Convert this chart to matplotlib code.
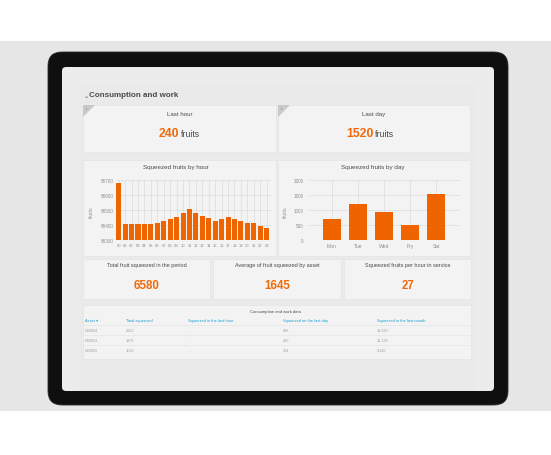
import matplotlib
matplotlib.use("Agg")
import matplotlib.pyplot as plt
from matplotlib.patches import FancyBboxPatch, Rectangle, Polygon

plt.rcParams['font.family'] = ['Liberation Sans', 'DejaVu Sans']

# ---------------- data ----------------
hours = ["00", "01", "02", "03", "04", "05", "06", "07", "08", "09", "10", "11",
         "12", "13", "14", "15", "16", "17", "18", "19", "20", "21", "22", "23"]
hour_values = [86677, 86410, 86410, 86410, 86410, 86410, 86414, 86428, 86437, 86455,
               86478, 86510, 86478, 86459, 86448, 86428, 86442, 86455, 86442, 86430,
               86414, 86414, 86396, 86378]
hour_ticks = [86300, 86400, 86500, 86600, 86700]

days = ["Mon", "Tue", "Wed", "Fry", "Sat"]
day_values = [700, 1200, 920, 500, 1520]
day_ticks = [0, 500, 1000, 1500, 2000]

last_hour = 240
last_day = 1520
kpi_titles = ["Total fruit squeezed in the period",
              "Average of fruit squeezed by asset",
              "Squeezed fruits per hour in service"]
kpi_values = [6580, 1645, 27]

table_headers = ["Asset \u25be", "Total squeezed", "Squeezed in the last hour",
                 "Squeezed on the last day", "Squeezed in the last month"]
table_assets = ["D00004", "D00003", "D00002"]
table_total = ["2652", "1976", "1516"]
table_hour = ["-", "-", "-"]
table_day = ["636", "450", "354"]
table_month = ["16.320", "12.136", "9.130"]

# ---------------- styling ----------------
W, H = 551, 456
ORANGE = "#f06a0a"
BAR = "#f06400"
DARK = "#4a4a4a"
GREY = "#8f8f8f"
BLUE = "#1ea0d6"
PANEL = "#f3f3f3"

fig = plt.figure(figsize=(W / 100, H / 100), dpi=100, facecolor="white")
bg = fig.add_axes([0, 0, 1, 1])
bg.set_xlim(0, W)
bg.set_ylim(H, 0)
bg.axis("off")

# grey band
bg.add_patch(Rectangle((0, 42), W, 370, facecolor="#e6e6e6", edgecolor="none"))
# tablet body
bg.add_patch(FancyBboxPatch((48 + 14, 53 + 14), 460 - 28, 353 - 28,
                            boxstyle="round,pad=14", facecolor="#0f0f0f",
                            edgecolor="#2a2a2a", linewidth=0.6))
# screen
bg.add_patch(FancyBboxPatch((62 + 4, 68 + 4), 432 - 8, 324 - 8,
                            boxstyle="round,pad=4", facecolor="#ececec",
                            edgecolor="none"))
# dashboard area
bg.add_patch(Rectangle((79, 86), 396, 306, facecolor="#eaeaea", edgecolor="none"))


def panel(x0, y0, x1, y1):
    bg.add_patch(Rectangle((x0, y0), x1 - x0, y1 - y0, facecolor=PANEL,
                           edgecolor="#e4e4e4", linewidth=0.5))


# heading
bg.text(84, 96.5, "\u2304", ha="left", va="center", fontsize=4.5, color=DARK,
        family=["DejaVu Sans"])
bg.text(89, 96, "Consumption and work", ha="left", va="center", fontsize=5.8,
        color=DARK, fontweight="bold")

# stat panels row 1
for (x0, x1, title, val) in [(83, 276, "Last hour", last_hour),
                             (278, 470, "Last day", last_day)]:
    panel(x0, 106, x1, 153)
    bg.add_patch(Polygon([[x0, 106], [x0 + 12, 106], [x0, 118]], closed=True,
                         facecolor="#c9c9c9", edgecolor="none"))
    bg.text(x0 + 3, 109.5, "i", fontsize=3, color="#666", ha="center", va="center")
    cx = (x0 + x1) / 2
    bg.text(cx, 114.5, title, ha="center", va="center", fontsize=4.4, color=DARK)
    bg.text(cx - 0.5, 137, str(val), ha="right", va="baseline", fontsize=8.8,
            color=ORANGE, fontweight="bold")
    bg.text(cx + 1, 137, "fruits", ha="left", va="baseline", fontsize=6.3, color=DARK)

# chart panels
panel(83, 161, 276, 257)
panel(278, 161, 470, 257)
bg.text(176, 168, "Squeezed fruits by hour", ha="center", va="center", fontsize=4.5,
        color=DARK)
bg.text(373, 168, "Squeezed fruits by day", ha="center", va="center", fontsize=4.5,
        color=DARK)
bg.text(91, 212, "fruits", ha="center", va="center", rotation=90, fontsize=3.8,
        color=GREY)
bg.text(285, 212, "fruits", ha="center", va="center", rotation=90, fontsize=3.8,
        color=GREY)


def fig_rect(x0, y0, x1, y1):
    return [x0 / W, 1 - y1 / H, (x1 - x0) / W, (y1 - y0) / H]


def style_axes(ax):
    ax.set_facecolor(PANEL)
    for s in ax.spines.values():
        s.set_visible(False)
    ax.grid(True, color="#d8d8d8", linewidth=0.45)
    ax.set_axisbelow(True)
    ax.tick_params(length=0, labelsize=3.3, labelcolor=GREY, pad=2)


# hourly chart
ax1 = fig.add_axes(fig_rect(116, 181, 270.5, 241))
style_axes(ax1)
ax1.bar(range(len(hours)), hour_values, width=0.78, color=BAR, bottom=0, zorder=3)
ax1.set_ylim(hour_ticks[0], hour_ticks[-1])
ax1.set_yticks(hour_ticks)
ax1.set_xticks(range(len(hours)))
ax1.set_xticklabels(hours)
ax1.set_xlim(-0.42, len(hours) - 1 + 0.6)
ax1.tick_params(axis="x", labelsize=3.0, pad=2.5)

# daily chart
ax2 = fig.add_axes(fig_rect(309, 181, 460, 241))
style_axes(ax2)
ax2.bar(range(len(days)), day_values, width=0.7, color=BAR, zorder=3)
ax2.set_ylim(day_ticks[0], day_ticks[-1])
ax2.set_yticks(day_ticks)
ax2.set_xticks(range(len(days)))
ax2.set_xticklabels(days)
ax2.set_xlim(-0.88, len(days) - 1 + 0.92)
ax2.tick_params(axis="y", pad=4)
ax2.tick_params(axis="x", labelsize=3.6, pad=2.5)

# KPI row
for (x0, x1), title, val in zip([(83, 210), (213, 341), (344, 471)], kpi_titles, kpi_values):
    panel(x0, 260, x1, 300)
    cx = (x0 + x1) / 2
    bg.text(cx, 265.5, title, ha="center", va="center", fontsize=4.0, color=DARK)
    bg.text(cx, 286, str(val), ha="center", va="center", fontsize=8.3, color=ORANGE,
            fontweight="bold")

# table
panel(83, 306, 471, 360)
bg.text(275, 312, "Consumption and work data", ha="center", va="center", fontsize=3.0,
        color=DARK)
col_x = [85, 125.5, 188, 283, 377]
for x, h in zip(col_x, table_headers):
    bg.text(x, 321, h, ha="left", va="center", fontsize=2.9, color=BLUE,
            family=["Liberation Sans", "DejaVu Sans"])
rows = list(zip(table_assets, table_total, table_hour, table_day, table_month))
for i, row in enumerate(rows):
    y = 331 + 10 * i
    bg.plot([84, 470], [y - 5, y - 5], color="#e2e2e2", linewidth=0.4)
    for x, v in zip(col_x, row):
        xx = x + 2 if v == "-" else x
        bg.text(xx, y, v, ha="left", va="center", fontsize=2.7, color="#a0a0a0")

fig.savefig("out.png", dpi=100, facecolor="white")
